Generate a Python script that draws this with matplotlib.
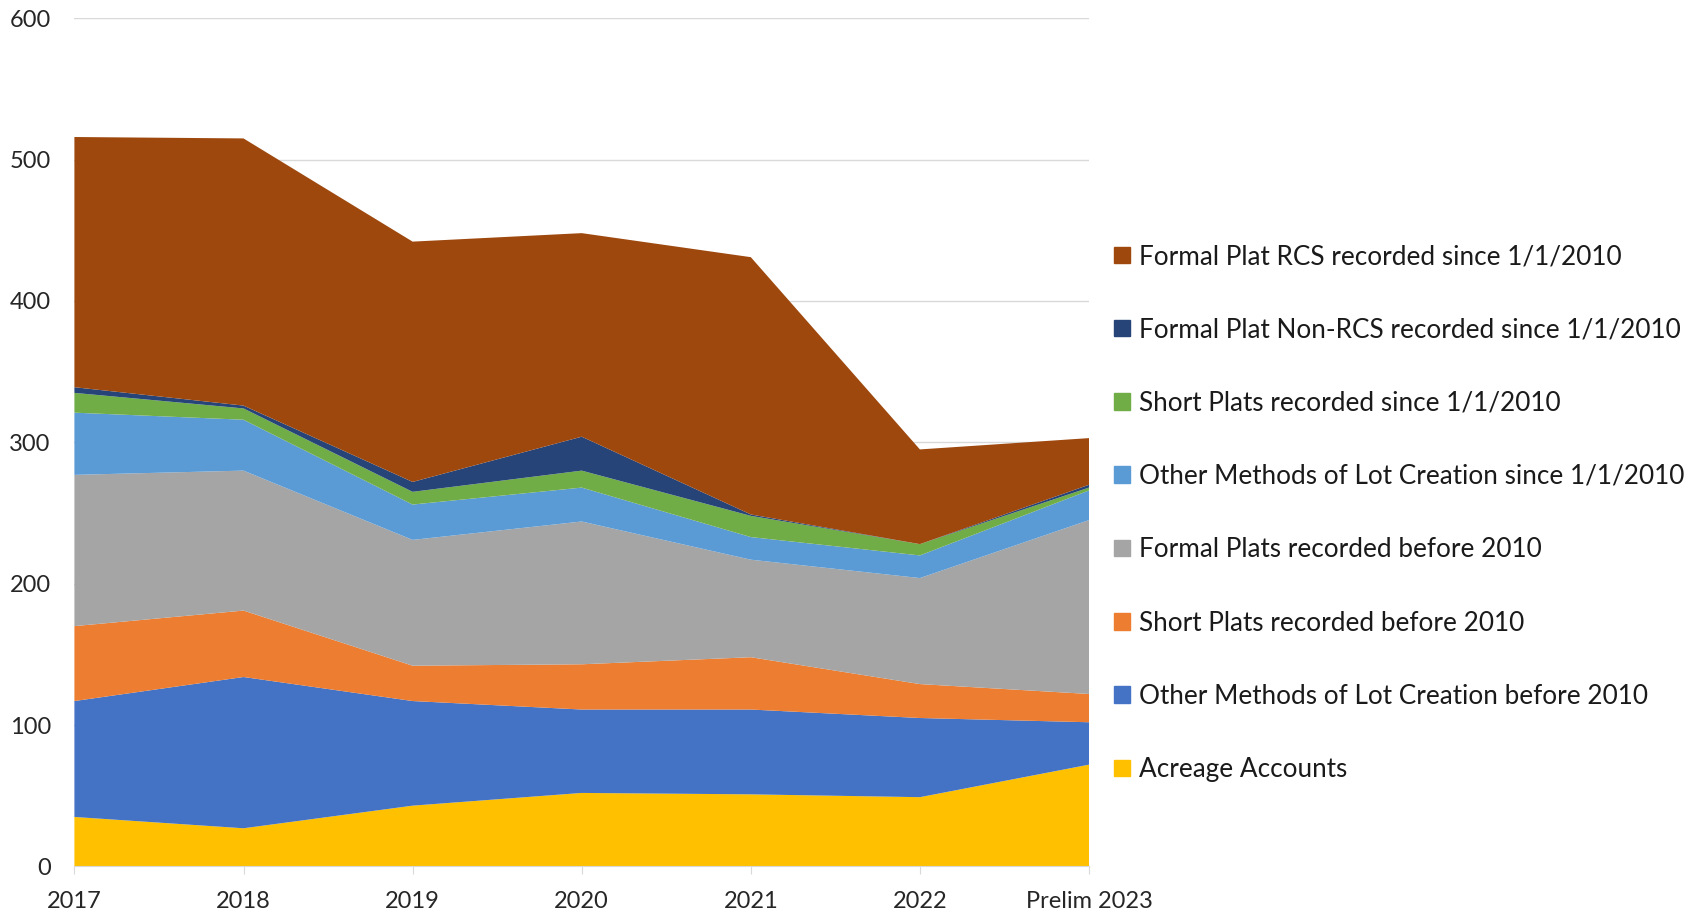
import numpy as np
import matplotlib
matplotlib.use("Agg")
import matplotlib.pyplot as plt
from matplotlib.patches import Patch

plt.rcParams['font.family'] = ['Lato', 'DejaVu Sans']

# dados
anos = ["2017", "2018", "2019", "2020", "2021", "2022", "Prelim 2023"]
acreage = [35, 27, 43, 52, 51, 49, 72]
other_before = [82, 107, 74, 59, 60, 56, 30]
short_before = [53, 47, 25, 32, 37, 24, 20]
formal_before = [107, 99, 89, 101, 69, 75, 123]
other_since = [44, 36, 25, 24, 16, 16, 21]
short_since = [14, 8, 9, 12, 15, 8, 2]
nonrcs_since = [4, 2, 7, 24, 1, 0, 2]
rcs_since = [177, 189, 170, 144, 182, 67, 33]

nomes = ["Acreage Accounts",
         "Other Methods of Lot Creation before 2010",
         "Short Plats recorded before 2010",
         "Formal Plats recorded before 2010",
         "Other Methods of Lot Creation since 1/1/2010",
         "Short Plats recorded since 1/1/2010",
         "Formal Plat Non-RCS recorded since 1/1/2010",
         "Formal Plat RCS recorded since 1/1/2010"]
cores = ["#FFC000", "#4472C4", "#ED7D31", "#A5A5A5",
         "#5B9BD5", "#70AD47", "#264478", "#9E480E"]

fig = plt.figure(figsize=(16.91, 9.13), dpi=100)
ax = fig.add_axes([0.044, 0.051, 0.6, 0.929])

x = np.arange(len(anos))
ax.stackplot(x, acreage, other_before, short_before, formal_before,
             other_since, short_since, nonrcs_since, rcs_since,
             colors=cores, linewidth=0, zorder=2)

ax.set_xlim(0, len(anos) - 1)
ax.set_ylim(0, 600)
ax.set_yticks(range(0, 601, 100))
ax.set_xticks(x)
ax.set_xticklabels(anos)
ax.grid(axis="y", color="#D9D9D9", linewidth=1, zorder=0)
ax.set_axisbelow(True)
for s in ["top", "right", "left"]:
    ax.spines[s].set_visible(False)
ax.spines["bottom"].set_color("#D9D9D9")
ax.tick_params(axis="y", length=0, pad=17, labelsize=17, labelcolor="#262626")
ax.tick_params(axis="x", length=6, color="#D9D9D9", pad=12, labelsize=17, labelcolor="#262626")

# legenda na ordem inversa
handles = [Patch(color=c) for c in cores][::-1]
fig.legend(handles, nomes[::-1], loc="center left", bbox_to_anchor=(0.645, 0.438),
           frameon=False, fontsize=18.8, handlelength=0.6, handleheight=0.6,
           handletextpad=0.35, labelspacing=1.85, labelcolor="#1a1a1a")

fig.savefig("out.png", dpi=100)
